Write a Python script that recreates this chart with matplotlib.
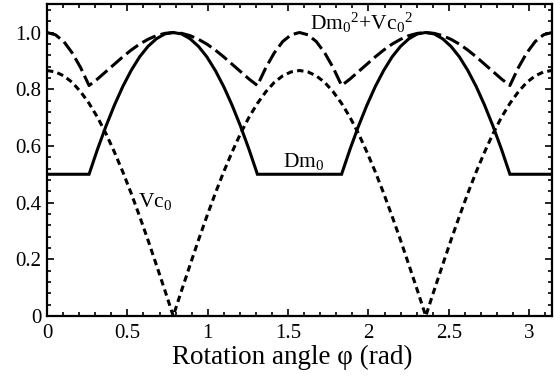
import matplotlib
matplotlib.use("Agg")
import matplotlib.pyplot as plt
from matplotlib.ticker import FixedLocator, MultipleLocator

plt.rcParams['font.family'] = ['Liberation Serif', 'DejaVu Serif']
plt.rcParams['mathtext.fontset'] = 'custom'
plt.rcParams['mathtext.rm'] = 'Liberation Serif'
plt.rcParams['mathtext.it'] = 'Liberation Serif:italic'

# rotation angle (rad)
phi = [0.0000, 0.0524, 0.1047, 0.1571, 0.2094, 0.2618, 0.3142, 0.3665, 0.4189, 0.4712,
       0.5236, 0.5760, 0.6283, 0.6807, 0.7330, 0.7854, 0.8378, 0.8901, 0.9425, 0.9948,
       1.0472, 1.0996, 1.1519, 1.2043, 1.2566, 1.3090, 1.3614, 1.4137, 1.4661, 1.5184,
       1.5708, 1.6232, 1.6755, 1.7279, 1.7802, 1.8326, 1.8850, 1.9373, 1.9897, 2.0420,
       2.0944, 2.1468, 2.1991, 2.2515, 2.3038, 2.3562, 2.4086, 2.4609, 2.5133, 2.5656,
       2.6180, 2.6704, 2.7227, 2.7751, 2.8274, 2.8798, 2.9322, 2.9845, 3.0369, 3.0892,
       3.1416]

vc0 = [0.866, 0.861, 0.847, 0.824, 0.791, 0.750, 0.701, 0.644, 0.579, 0.509,
       0.433, 0.352, 0.268, 0.180, 0.091, 0.000, 0.091, 0.180, 0.268, 0.352,
       0.433, 0.509, 0.579, 0.644, 0.701, 0.750, 0.791, 0.824, 0.847, 0.861,
       0.866, 0.861, 0.847, 0.824, 0.791, 0.750, 0.701, 0.644, 0.579, 0.509,
       0.433, 0.352, 0.268, 0.180, 0.091, 0.000, 0.091, 0.180, 0.268, 0.352,
       0.433, 0.509, 0.579, 0.644, 0.701, 0.750, 0.791, 0.824, 0.847, 0.861,
       0.866]

dm0 = [0.500, 0.500, 0.500, 0.500, 0.500, 0.500, 0.588, 0.669, 0.743, 0.809,
       0.866, 0.914, 0.951, 0.978, 0.995, 1.000, 0.995, 0.978, 0.951, 0.914,
       0.866, 0.809, 0.743, 0.669, 0.588, 0.500, 0.500, 0.500, 0.500, 0.500,
       0.500, 0.500, 0.500, 0.500, 0.500, 0.500, 0.588, 0.669, 0.743, 0.809,
       0.866, 0.914, 0.951, 0.978, 0.995, 1.000, 0.995, 0.978, 0.951, 0.914,
       0.866, 0.809, 0.743, 0.669, 0.588, 0.500, 0.500, 0.500, 0.500, 0.500,
       0.500]

sum_sq = [1.000, 0.992, 0.968, 0.928, 0.876, 0.813, 0.836, 0.862, 0.888, 0.914,
          0.938, 0.959, 0.976, 0.989, 0.997, 1.000, 0.997, 0.989, 0.976, 0.959,
          0.938, 0.914, 0.888, 0.862, 0.836, 0.813, 0.876, 0.928, 0.968, 0.992,
          1.000, 0.992, 0.968, 0.928, 0.876, 0.813, 0.836, 0.862, 0.888, 0.914,
          0.938, 0.959, 0.976, 0.989, 0.997, 1.000, 0.997, 0.989, 0.976, 0.959,
          0.938, 0.914, 0.888, 0.862, 0.836, 0.813, 0.876, 0.928, 0.968, 0.992,
          1.000]

x_ticks = [0, 0.5, 1, 1.5, 2, 2.5, 3]
x_ticklabels = ["0", "0.5", "1", "1.5", "2", "2.5", "3"]
y_ticks = [0, 0.2, 0.4, 0.6, 0.8, 1.0]
y_ticklabels = ["0", "0.2", "0.4", "0.6", "0.8", "1.0"]

fig = plt.figure(figsize=(5.54, 3.78), dpi=100)
ax = fig.add_axes([0.0848, 0.164, 0.9116, 0.825])

lw = 2.2
ax.plot(phi, dm0, color='black', lw=lw, solid_joinstyle='miter')
ax.plot(phi, vc0, color='black', lw=lw, linestyle=(0, (2.1, 1.4)))
ax.plot(phi, sum_sq, color='black', lw=lw, linestyle=(0, (4.8, 1.7)))

ax.set_xlim(0, 3.1416)
ax.set_ylim(0, 1.1)

ax.xaxis.set_major_locator(FixedLocator(x_ticks))
ax.set_xticklabels(x_ticklabels)
ax.xaxis.set_minor_locator(MultipleLocator(0.1))
ax.yaxis.set_major_locator(FixedLocator(y_ticks))
ax.set_yticklabels(y_ticklabels)
ax.yaxis.set_minor_locator(MultipleLocator(0.04))

ax.tick_params(which='both', direction='in', top=True, right=True, width=1.2,
               labelsize=15, color='black')
ax.tick_params(which='major', length=5)
ax.tick_params(which='minor', length=3)
ax.tick_params(axis='x', pad=6)
ax.tick_params(axis='y', pad=4)
for s in ax.spines.values():
    s.set_linewidth(1.6)

ax.set_xlabel("Rotation angle φ (rad)", fontsize=19.5, labelpad=0)
ax.xaxis.set_label_coords(0.485, -0.092, transform=ax.transAxes)
ax.xaxis.label.set_va('top')

ax.text(1.637, 1.011, r"Dm$_0{}^2$+Vc$_0{}^2$", fontsize=15.5, ha='left', va='baseline')
ax.text(1.469, 0.527, r"Dm$_0$", fontsize=15.5, ha='left', va='baseline')
ax.text(0.566, 0.385, r"Vc$_0$", fontsize=15.5, ha='left', va='baseline')

fig.savefig("out.png", dpi=100)
